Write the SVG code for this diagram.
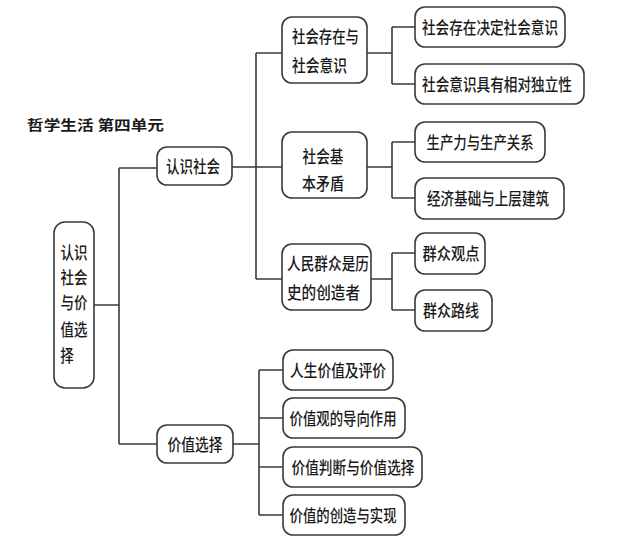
<svg xmlns="http://www.w3.org/2000/svg" width="640" height="545" viewBox="0 0 640 545">
<style>
.b{fill:#fff;stroke:#3a3a3a;stroke-width:1.6}
.c{fill:none;stroke:#3a3a3a;stroke-width:1.6}
text{font-family:"Noto Sans CJK SC","Noto Sans CJK JP",sans-serif;font-size:16.5px;font-weight:500;fill:#1a1a1a;dominant-baseline:central}
.m{text-anchor:middle}
.t{font-size:14px;font-weight:bold}
</style>
<rect width="640" height="545" fill="#fff"/>
<text class="t" x="27" y="124" textLength="137" lengthAdjust="spacingAndGlyphs">哲学生活 第四单元</text>
<g id="connectors">
<path class="c" d="M94,305H119M119,168V444M119,168H157M119,444H157"/>
<path class="c" d="M232,167H282M256,53V279M256,53H282M256,279H282"/>
<path class="c" d="M367,53H392M392,27V84M392,27H415M392,84H415"/>
<path class="c" d="M367,167H392M392,142V198M392,142H415M392,198H415"/>
<path class="c" d="M371,279H392M392,253V310M392,253H415M392,310H415"/>
<path class="c" d="M233,444H259M259,370V515M259,370H283M259,418H283M259,467H283M259,515H283"/>
</g>
<g id="root">
<rect class="b" x="54" y="222" width="40" height="166" rx="11"/>
<text class="m" x="74" y="252" font-size="18" textLength="27" lengthAdjust="spacingAndGlyphs">认识</text>
<text class="m" x="74" y="277" font-size="18" textLength="27" lengthAdjust="spacingAndGlyphs">社会</text>
<text class="m" x="74" y="302" font-size="18" textLength="27" lengthAdjust="spacingAndGlyphs">与价</text>
<text class="m" x="74" y="329" font-size="18" textLength="27" lengthAdjust="spacingAndGlyphs">值选</text>
<text class="m" x="67" y="355" font-size="18" textLength="13.5" lengthAdjust="spacingAndGlyphs">择</text>
</g>
<g id="renshi">
<rect class="b" x="157" y="147" width="75" height="38" rx="10"/>
<text class="m" x="193" y="166" font-size="17" textLength="54" lengthAdjust="spacingAndGlyphs">认识社会</text>
</g>
<g id="jiazhi">
<rect class="b" x="157" y="425" width="76" height="38" rx="10"/>
<text class="m" x="195" y="444" font-size="17" textLength="55" lengthAdjust="spacingAndGlyphs">价值选择</text>
</g>
<g id="cunzai">
<rect class="b" x="282" y="17" width="85" height="66" rx="10"/>
<text x="292" y="36" textLength="67" lengthAdjust="spacingAndGlyphs">社会存在与</text>
<text x="292" y="65" textLength="55" lengthAdjust="spacingAndGlyphs">社会意识</text>
</g>
<g id="maodun">
<rect class="b" x="282" y="132" width="85" height="66" rx="10"/>
<text class="m" x="323" y="156" textLength="41" lengthAdjust="spacingAndGlyphs">社会基</text>
<text class="m" x="323" y="183" textLength="42" lengthAdjust="spacingAndGlyphs">本矛盾</text>
</g>
<g id="qunzhong">
<rect class="b" x="282" y="244" width="89" height="66" rx="10"/>
<text x="287" y="263" textLength="82" lengthAdjust="spacingAndGlyphs">人民群众是历</text>
<text x="287" y="292" textLength="73" lengthAdjust="spacingAndGlyphs">史的创造者</text>
</g>
<g id="c1">
<rect class="b" x="415" y="7" width="150" height="40" rx="10"/>
<text class="m" x="490" y="27" textLength="136" lengthAdjust="spacingAndGlyphs">社会存在决定社会意识</text>
</g>
<g id="c2">
<rect class="b" x="415" y="64" width="169" height="40" rx="10"/>
<text class="m" x="497" y="84" textLength="150" lengthAdjust="spacingAndGlyphs">社会意识具有相对独立性</text>
</g>
<g id="c3">
<rect class="b" x="415" y="122" width="130" height="40" rx="10"/>
<text class="m" x="480" y="142" textLength="107" lengthAdjust="spacingAndGlyphs">生产力与生产关系</text>
</g>
<g id="c4">
<rect class="b" x="415" y="178" width="149" height="41" rx="10"/>
<text class="m" x="488" y="198" textLength="122" lengthAdjust="spacingAndGlyphs">经济基础与上层建筑</text>
</g>
<g id="c5">
<rect class="b" x="415" y="233" width="70" height="41" rx="10"/>
<text class="m" x="451" y="253" textLength="57" lengthAdjust="spacingAndGlyphs">群众观点</text>
</g>
<g id="c6">
<rect class="b" x="415" y="290" width="77" height="41" rx="10"/>
<text class="m" x="451" y="310" textLength="56" lengthAdjust="spacingAndGlyphs">群众路线</text>
</g>
<g id="v1">
<rect class="b" x="283" y="350" width="110" height="40" rx="10"/>
<text class="m" x="338" y="370" textLength="96" lengthAdjust="spacingAndGlyphs">人生价值及评价</text>
</g>
<g id="v2">
<rect class="b" x="283" y="398" width="122" height="40" rx="10"/>
<text class="m" x="343" y="418" textLength="107" lengthAdjust="spacingAndGlyphs">价值观的导向作用</text>
</g>
<g id="v3">
<rect class="b" x="283" y="447" width="139" height="40" rx="10"/>
<text class="m" x="353" y="467" textLength="123" lengthAdjust="spacingAndGlyphs">价值判断与价值选择</text>
</g>
<g id="v4">
<rect class="b" x="283" y="495" width="122" height="40" rx="10"/>
<text class="m" x="343" y="515" textLength="107" lengthAdjust="spacingAndGlyphs">价值的创造与实现</text>
</g>
</svg>
